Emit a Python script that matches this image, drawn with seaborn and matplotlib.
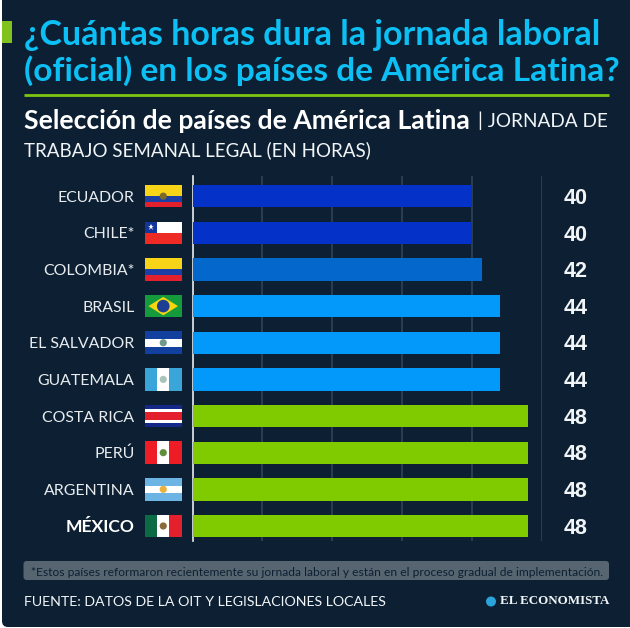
import matplotlib
matplotlib.use("Agg")
import matplotlib.pyplot as plt
from matplotlib.patches import Rectangle, FancyBboxPatch, Circle, Polygon
import pandas as pd
import seaborn as sns

# data
paises = ["ECUADOR", "CHILE*", "COLOMBIA*", "BRASIL", "EL SALVADOR", "GUATEMALA",
          "COSTA RICA", "PERÚ", "ARGENTINA", "MÉXICO"]
horas = [40, 40, 42, 44, 44, 44, 48, 48, 48, 48]
# drawn bar lengths, the Colombia bar is a little shorter than its label in the picture
largo_barra = [40, 40, 41.5, 44, 44, 44, 48, 48, 48, 48]
colores_horas = {40: "#0432c8", 42: "#0467cb", 44: "#0399fb", 48: "#80cb00"}

fondo = "#0d2033"
cyan = "#0cc0f5"
verde = "#7ec411"
blanco = "#f2f5f7"

# flag bands, top to bottom, (color, share of height)
flag_h = {
    "ECUADOR": [("#f7d417", 0.5), ("#1c3fa5", 0.25), ("#e3202c", 0.25)],
    "COLOMBIA*": [("#f7d417", 0.5), ("#1c3fa5", 0.25), ("#e3202c", 0.25)],
    "EL SALVADOR": [("#12409f", 0.33), ("#ffffff", 0.34), ("#12409f", 0.33)],
    "COSTA RICA": [("#14288a", 0.17), ("#ffffff", 0.15), ("#e3202c", 0.36), ("#ffffff", 0.15), ("#14288a", 0.17)],
    "ARGENTINA": [("#6cb4e4", 0.33), ("#ffffff", 0.34), ("#6cb4e4", 0.33)],
}
flag_v = {
    "GUATEMALA": ["#3aa5d8", "#ffffff", "#3aa5d8"],
    "PERÚ": ["#ee1c25", "#ffffff", "#ee1c25"],
    "MÉXICO": ["#0b6b45", "#ffffff", "#e3202c"],
}
emblemas = {"ECUADOR": "#7d6a2a", "EL SALVADOR": "#6f9a8a", "GUATEMALA": "#a9c4b8",
            "PERÚ": "#5f8f3a", "ARGENTINA": "#e8b23c", "MÉXICO": "#8a6a3a"}

df = pd.DataFrame({"pais": paises, "horas": horas, "largo": largo_barra})

sns.set_theme(style="white")
W, H = 630, 628
fig = plt.figure(figsize=(W / 100, H / 100), dpi=100, facecolor="white")

# overlay in pixel coordinates for panel, headings and flags
bg = fig.add_axes([0, 0, 1, 1], zorder=0)
bg.set_xlim(0, W)
bg.set_ylim(H, 0)
bg.axis("off")
bg.add_patch(FancyBboxPatch((2, -10), 640, 637, boxstyle="round,pad=0,rounding_size=6", fc=fondo, ec="none"))
bg.add_patch(Rectangle((2, 21), 10, 22, fc="#7fc31c", ec="none"))
bg.plot([24, 609], [94.7, 94.7], color=verde, lw=2, solid_capstyle="butt")

titulo = dict(color=cyan, fontweight="bold", family="Lato", va="center")
bg.text(24, 35, "¿Cuántas horas dura la jornada laboral", fontsize=24.5, **titulo)
bg.text(24, 71, "(oficial) en los países de América Latina?", fontsize=24.1, **titulo)

bg.text(24, 121, "Selección de países de América Latina", color="white", fontsize=19.1,
        fontweight="bold", family="Lato", va="center")
bg.text(478, 121, "| JORNADA DE", color=blanco, fontsize=13.7, family="Lato", va="center")
bg.text(24, 150, "TRABAJO SEMANAL LEGAL (EN HORAS)", color=blanco, fontsize=13.5, family="Lato", va="center")

# bars
ax = fig.add_axes([192.6 / W, 1 - 541 / H, (541.6 - 192.6) / W, (541 - 176) / H], zorder=1)
ax.patch.set_alpha(0)
sns.barplot(data=df, x="largo", y="pais", hue="horas", palette=colores_horas, dodge=False,
            legend=False, width=0.61, saturation=1, linewidth=0, ax=ax, zorder=3)
ax.set_xlim(0, 50)
ax.set_ylim(9.41, -0.55)
ax.set_xlabel("")
ax.set_ylabel("")
ax.set_xticks([0, 10, 20, 30, 40, 50])
ax.set_xticklabels([])
ax.tick_params(axis="x", length=0)
ax.grid(axis="x", color="#2f4456", lw=1.2, zorder=0)
ax.grid(axis="y", visible=False)
for s in ["top", "right", "bottom"]:
    ax.spines[s].set_visible(False)
ax.spines["left"].set_color("#e6ebef")
ax.spines["left"].set_linewidth(1.2)
ax.tick_params(axis="y", length=0, pad=42, labelsize=11.4, labelcolor="#e8ecef")
for lab in ax.get_yticklabels():
    lab.set_family("Lato")
    if lab.get_text() == "MÉXICO":
        lab.set_fontweight("bold")
        lab.set_color("white")
        lab.set_fontsize(12.6)

for i, v in enumerate(horas):
    ax.text(54.9, i + 0.06, str(v), color=blanco, fontsize=15.5, fontweight="bold",
            family="Liberation Sans", ha="center", va="center", clip_on=False)

# flags
fx, fw, fh = 145, 36.5, 22.5
for i, p in enumerate(paises):
    cy = H - ax.transData.transform((0, i))[1]
    top = cy - fh / 2
    cx = fx + fw / 2
    if p in flag_h:
        y = top
        for c, share in flag_h[p]:
            bg.add_patch(Rectangle((fx, y), fw, fh * share, fc=c, ec="none"))
            y += fh * share
    elif p in flag_v:
        for k, c in enumerate(flag_v[p]):
            bg.add_patch(Rectangle((fx + k * fw / 3, top), fw / 3, fh, fc=c, ec="none"))
    elif p == "CHILE*":
        bg.add_patch(Rectangle((fx, top), fw, fh / 2, fc="white", ec="none"))
        bg.add_patch(Rectangle((fx, cy), fw, fh / 2, fc="#ee2a24", ec="none"))
        bg.add_patch(Rectangle((fx, top), 12, fh / 2, fc="#14359a", ec="none"))
        bg.plot(fx + 6, top + 5.5, marker="*", ms=5, color="white", mew=0)
    elif p == "BRASIL":
        bg.add_patch(Rectangle((fx, top), fw, fh, fc="#159a3c", ec="none"))
        bg.add_patch(Polygon([(fx + 3.5, cy), (cx, top + 2), (fx + fw - 3.5, cy), (cx, top + fh - 2)],
                             fc="#f5d60f", ec="none"))
        bg.add_patch(Circle((cx, cy), 6.3, fc="#1c3f94", ec="none"))
    if p in emblemas:
        bg.add_patch(Circle((cx, cy), 3.6, fc=emblemas[p], ec="none"))

# note and source
bg.add_patch(FancyBboxPatch((23.5, 561), 585.5, 19, boxstyle="round,pad=0,rounding_size=3", fc="#56656f", ec="none", zorder=2))
bg.text(31, 572, "*Estos países reformaron recientemente su jornada laboral y están en el proceso gradual de implementación.",
        color="#0d2033", fontsize=8.65, family="Lato", va="center", zorder=3)
bg.text(24, 601.5, "FUENTE: DATOS DE LA OIT Y LEGISLACIONES LOCALES", color=blanco, fontsize=10.15, family="Lato", va="center")
bg.add_patch(Circle((491, 601.5), 5, fc="#2ba4dc", ec="none"))
bg.text(609, 601.5, "EL ECONOMISTA", color=blanco, fontsize=9.4, fontweight="bold", family="Liberation Serif", ha="right", va="center")

fig.savefig("out.png", dpi=100, facecolor="white")
